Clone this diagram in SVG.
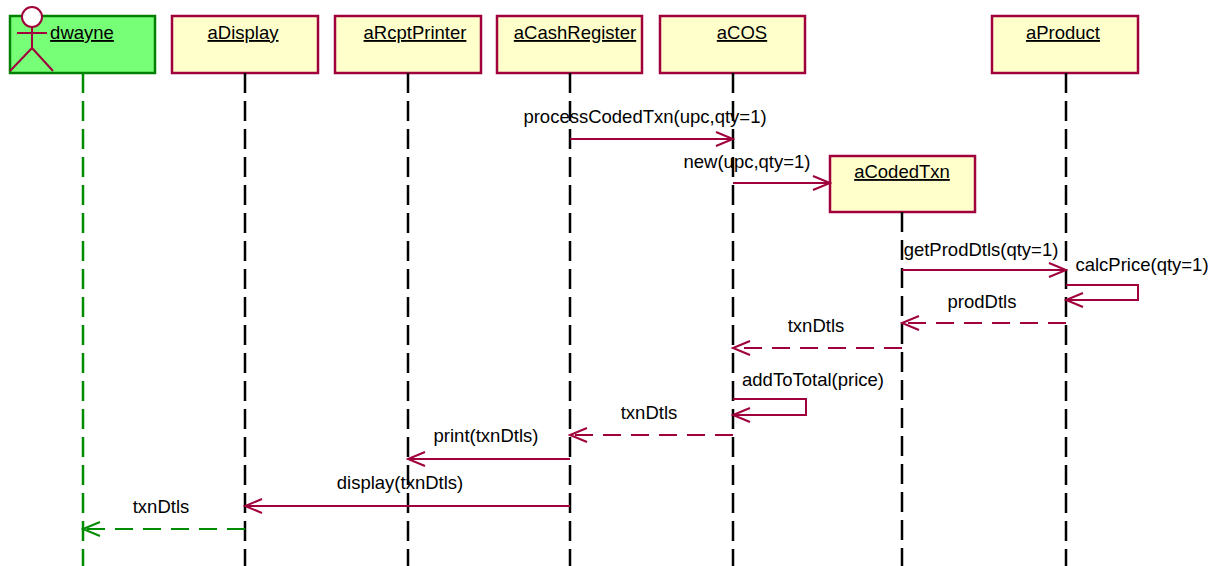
<svg xmlns="http://www.w3.org/2000/svg" width="1226" height="566" viewBox="0 0 1226 566">
<style>
text{font-family:"Liberation Sans",Arial,sans-serif;font-size:18.5px;fill:#000}
.hd{text-anchor:middle;text-decoration:underline}
.lbl{text-anchor:middle}
.box{fill:#ffffcc;stroke:#a0003c;stroke-width:2.5}
.life{stroke:#000;stroke-width:2.5;stroke-dasharray:20 8;fill:none}
.msg{stroke:#a0003c;stroke-width:2;fill:none}
.ret{stroke:#a0003c;stroke-width:2;fill:none;stroke-dasharray:18 10}
</style>
<defs>
<marker id="ah" markerUnits="userSpaceOnUse" markerWidth="20" markerHeight="20" viewBox="-18 -10 20 20" refX="0" refY="0" orient="auto">
<path d="M-17,-7 L0,0 L-17,7" fill="none" stroke="#a0003c" stroke-width="2"/>
</marker>
<marker id="ahg" markerUnits="userSpaceOnUse" markerWidth="20" markerHeight="20" viewBox="-18 -10 20 20" refX="0" refY="0" orient="auto">
<path d="M-17,-7 L0,0 L-17,7" fill="none" stroke="#008c00" stroke-width="2"/>
</marker>
</defs>
<rect width="1226" height="566" fill="#fff"/>
<g id="dwayne">
<rect x="10" y="16" width="145" height="57" fill="#77ff77" stroke="#008000" stroke-width="2.5"/>
<circle cx="32" cy="17" r="10" fill="#fff" stroke="#a0003c" stroke-width="2"/>
<path d="M32,27 L32,48 M17,33 L47,33 M32,48 L10,71 M32,48 L53,71" fill="none" stroke="#a0003c" stroke-width="2"/>
<text x="82" y="39" class="hd">dwayne</text>
<line x1="83" y1="73" x2="83" y2="566" stroke="#008c00" stroke-width="2.5" stroke-dasharray="20 8"/>
</g>
<g id="aDisplay">
<rect class="box" x="172" y="16" width="146" height="57"/>
<text x="243" y="39" class="hd">aDisplay</text>
<line class="life" x1="245" y1="73" x2="245" y2="566"/>
</g>
<g id="aRcptPrinter">
<rect class="box" x="335" y="16" width="146" height="57"/>
<text x="415" y="39" class="hd">aRcptPrinter</text>
<line class="life" x1="408" y1="73" x2="408" y2="566"/>
</g>
<g id="aCashRegister">
<rect class="box" x="497" y="16" width="145" height="57"/>
<text x="575" y="39" class="hd">aCashRegister</text>
<line class="life" x1="570" y1="73" x2="570" y2="566"/>
</g>
<g id="aCOS">
<rect class="box" x="660" y="16" width="145" height="57"/>
<text x="742" y="39" class="hd">aCOS</text>
<line class="life" x1="733" y1="73" x2="733" y2="566"/>
</g>
<g id="aCodedTxn">
<rect class="box" x="830" y="156" width="145" height="56"/>
<text x="902" y="178" class="hd">aCodedTxn</text>
<line class="life" x1="902" y1="212" x2="902" y2="566"/>
</g>
<g id="aProduct">
<rect class="box" x="992" y="16" width="146" height="57"/>
<text x="1063" y="39" class="hd">aProduct</text>
<line class="life" x1="1066" y1="73" x2="1066" y2="566"/>
</g>
<g id="connectors">
<line class="msg" x1="570" y1="139" x2="733" y2="139" marker-end="url(#ah)"/>
<text x="645" y="123" class="lbl">processCodedTxn(upc,qty=1)</text>
<line class="msg" x1="733" y1="183" x2="830" y2="183" marker-end="url(#ah)"/>
<text x="747" y="168" class="lbl">new(upc,qty=1)</text>
<line class="msg" x1="902" y1="270" x2="1066" y2="270" marker-end="url(#ah)"/>
<text x="981" y="256" class="lbl">getProdDtls(qty=1)</text>
<path class="msg" d="M1066,285 L1138,285 L1138,300 L1066,300" marker-end="url(#ah)"/>
<text x="1142" y="271" class="lbl">calcPrice(qty=1)</text>
<line class="ret" x1="1066" y1="323" x2="902" y2="323" marker-end="url(#ah)"/>
<text x="982" y="308" class="lbl">prodDtls</text>
<line class="ret" x1="902" y1="348" x2="733" y2="348" marker-end="url(#ah)"/>
<text x="816" y="332" class="lbl">txnDtls</text>
<path class="msg" d="M733,399 L806,399 L806,415 L733,415" marker-end="url(#ah)"/>
<text x="813" y="386" class="lbl">addToTotal(price)</text>
<line class="ret" x1="733" y1="435" x2="570" y2="435" marker-end="url(#ah)"/>
<text x="649" y="419" class="lbl">txnDtls</text>
<line class="msg" x1="570" y1="459" x2="408" y2="459" marker-end="url(#ah)"/>
<text x="486" y="442" class="lbl">print(txnDtls)</text>
<line class="msg" x1="570" y1="506" x2="245" y2="506" marker-end="url(#ah)"/>
<text x="400" y="489" class="lbl">display(txnDtls)</text>
<line x1="245" y1="529" x2="83" y2="529" stroke="#008c00" stroke-width="2" stroke-dasharray="18 10" marker-end="url(#ahg)"/>
<text x="161" y="513" class="lbl">txnDtls</text>
</g>
</svg>
